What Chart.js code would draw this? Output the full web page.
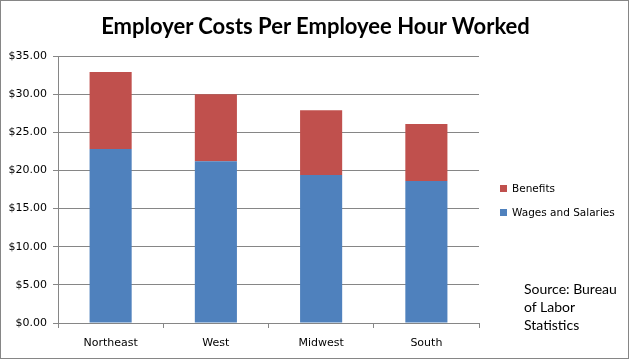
<!DOCTYPE html>
<html><head><meta charset="utf-8">
<script src="https://cdn.jsdelivr.net/npm/chart.js@4"></script>
<style>
html,body{margin:0;padding:0;background:#fff;}
#wrap{position:relative;width:629px;height:359px;box-sizing:border-box;border:1px solid #868686;overflow:hidden;}
#c{position:absolute;left:0;top:0;}
#title{position:absolute;left:0;width:629px;top:11px;text-align:center;font:bold 22px Lato, "Open Sans", sans-serif;color:#000;}
.leg{position:absolute;left:499px;font:10.5px "DejaVu Sans", sans-serif;color:#000;white-space:nowrap;}
.leg i{display:inline-block;width:7px;height:7px;margin-right:5px;vertical-align:0px;}
#src{position:absolute;left:523px;top:279px;font:14px Lato, sans-serif;line-height:18px;color:#000;}
</style></head>
<body>
<div id="wrap">
<canvas id="c" width="627" height="357"></canvas>
<div id="title">Employer Costs Per Employee Hour Worked</div>
<div id="legend"></div>
<div id="src">Source: Bureau<br>of Labor<br>Statistics</div>
</div>
<script>
const categories = ["Northeast", "West", "Midwest", "South"];
const wages = [22.8, 21.2, 19.4, 18.6];
const benefits = [10.1, 8.8, 8.5, 7.5];
const yTicks = [0, 5, 10, 15, 20, 25, 30, 35];
const seriesNames = ["Wages and Salaries", "Benefits"];
const seriesColors = ["#4F81BD", "#C0504D"];

const lg = document.getElementById('legend');
[[1, 181], [0, 205]].forEach(([i, top]) => {
  const d = document.createElement('div');
  d.className = 'leg';
  d.style.top = top + 'px';
  d.innerHTML = '<i style="background:' + seriesColors[i] + '"></i>' + seriesNames[i];
  lg.appendChild(d);
});

const grid = '#868686';
new Chart(document.getElementById('c'), {
  type: 'bar',
  data: {
    labels: categories,
    datasets: [
      {label: seriesNames[0], data: wages, backgroundColor: seriesColors[0], barPercentage: 0.4, categoryPercentage: 1},
      {label: seriesNames[1], data: benefits, backgroundColor: seriesColors[1], barPercentage: 0.4, categoryPercentage: 1}
    ]
  },
  options: {
    responsive: false,
    animation: false,
    devicePixelRatio: 1,
    layout: {padding: {left: 0, top: 55, right: 149, bottom: 0}},
    plugins: {legend: {display: false}, title: {display: false}, tooltip: {enabled: false}},
    scales: {
      x: {
        stacked: true,
        grid: {display: true, offset: true, drawOnChartArea: false, drawTicks: true, tickLength: 5, color: grid},
        border: {display: true, color: grid, width: 1},
        ticks: {color: '#000', font: {family: 'DejaVu Sans', size: 11}, padding: 9},
        afterFit: s => { s.height = 35; }
      },
      y: {
        stacked: true,
        min: 0, max: 35,
        afterBuildTicks: s => { s.ticks = yTicks.map(v => ({value: v})); },
        grid: {color: grid, tickLength: 5, drawTicks: true},
        border: {display: true, color: grid, width: 1},
        ticks: {color: '#000', font: {family: 'DejaVu Sans', size: 11}, padding: 6,
          callback: v => '$' + Number(v).toFixed(2)},
        afterFit: s => { s.width = 57; }
      }
    }
  }
});
</script>
</body></html>
